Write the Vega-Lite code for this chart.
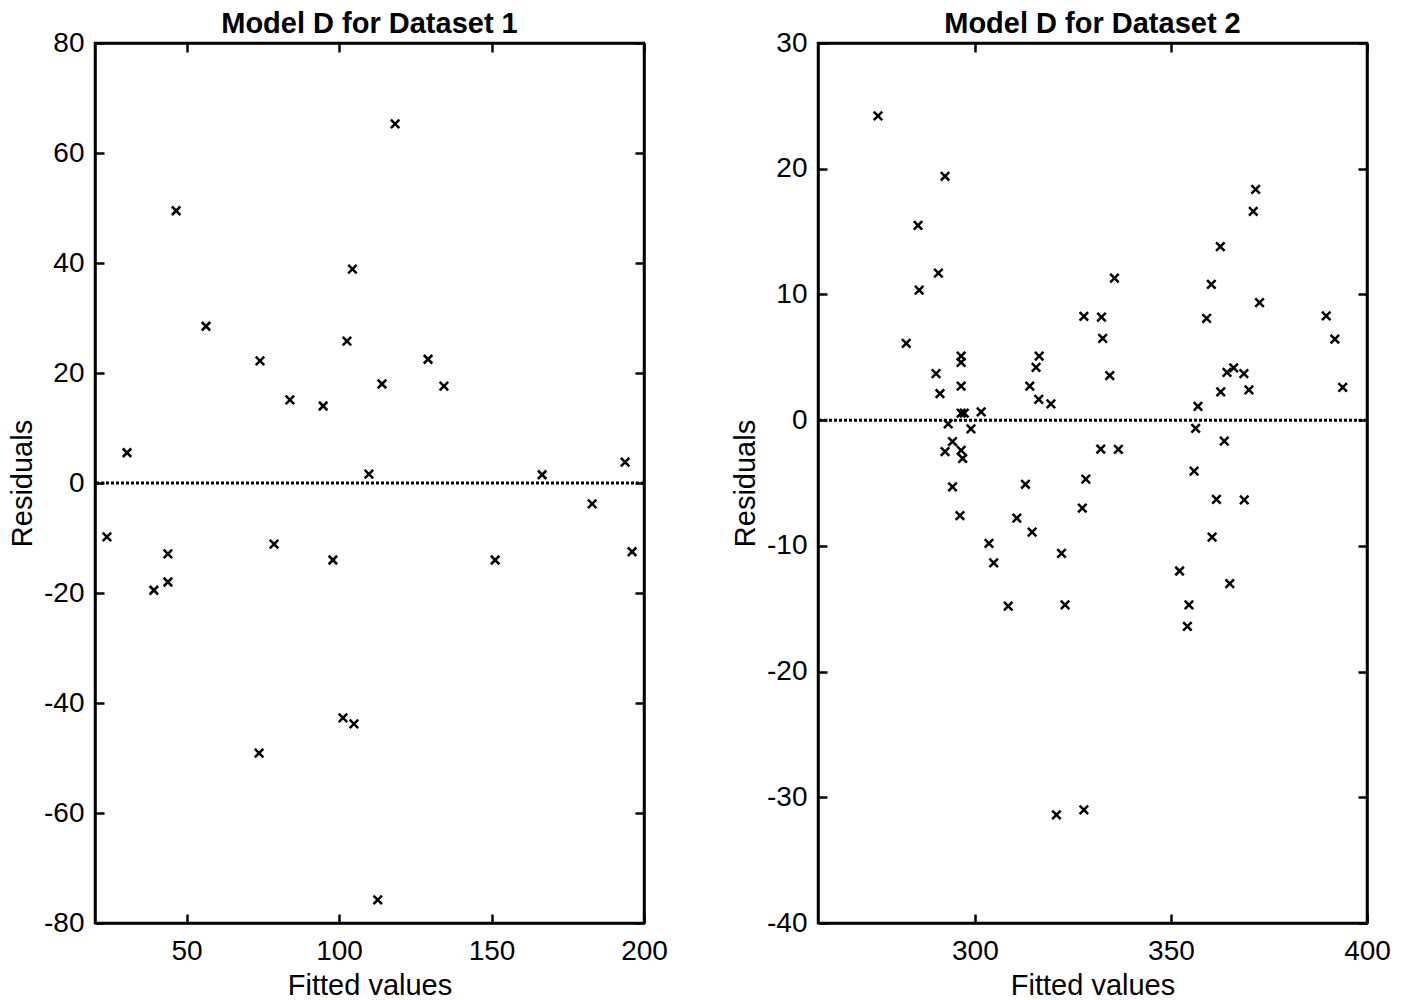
{
  "$schema": "https://vega.github.io/schema/vega-lite/v6.json",
  "background": "white",
  "padding": {"left": 7, "top": 8, "right": 6, "bottom": 0},
  "spacing": 174,
  "bounds": "flush",
  "config": {
    "font": "Liberation Sans",
    "view": {"stroke": "black", "strokeWidth": 2.5},
    "axis": {"domainColor": "black", "domainWidth": 2.5, "tickColor": "black", "tickWidth": 2.5, "tickSize": -9, "labelFontSize": 28, "labelColor": "black", "labelFont": "Liberation Sans", "titleFontSize": 29, "titleFontWeight": "normal", "titleColor": "black", "titleFont": "Liberation Sans", "grid": false, "labelFlush": false, "labelOverlap": false},
    "title": {"fontSize": 29, "fontWeight": "bold", "color": "black", "font": "Liberation Sans", "offset": -10}
  },
  "datasets": {
    "zero": [{"zero": 0}],
    "d1": [
      {"fitted": 23.9, "resid": -9.8}, {"fitted": 30.5, "resid": 5.5}, {"fitted": 39.3, "resid": -19.5}, {"fitted": 43.9, "resid": -12.9}, {"fitted": 43.9, "resid": -18.0}, {"fitted": 46.6, "resid": 49.5}, {"fitted": 56.4, "resid": 28.5}, {"fitted": 74.1, "resid": 22.2}, {"fitted": 73.8, "resid": -49.1}, {"fitted": 78.7, "resid": -11.1}, {"fitted": 83.9, "resid": 15.1}, {"fitted": 94.8, "resid": 14.0}, {"fitted": 98.0, "resid": -14.0}, {"fitted": 101.3, "resid": -42.7}, {"fitted": 102.6, "resid": 25.8}, {"fitted": 104.4, "resid": 38.9}, {"fitted": 104.9, "resid": -43.8}, {"fitted": 109.8, "resid": 1.6}, {"fitted": 112.7, "resid": -75.8}, {"fitted": 114.1, "resid": 18.0}, {"fitted": 118.4, "resid": 65.3}, {"fitted": 129.2, "resid": 22.5}, {"fitted": 134.4, "resid": 17.6}, {"fitted": 151.2, "resid": -14.0}, {"fitted": 166.6, "resid": 1.5}, {"fitted": 183.0, "resid": -3.8}, {"fitted": 193.8, "resid": 3.8}, {"fitted": 196.1, "resid": -12.5}
    ],
    "d2": [
      {"fitted": 275.3, "resid": 24.2}, {"fitted": 292.4, "resid": 19.4}, {"fitted": 285.5, "resid": 15.5}, {"fitted": 290.7, "resid": 11.7}, {"fitted": 285.8, "resid": 10.35}, {"fitted": 327.8, "resid": 8.25}, {"fitted": 282.5, "resid": 6.1}, {"fitted": 296.5, "resid": 5.1}, {"fitted": 296.5, "resid": 4.6}, {"fitted": 290.1, "resid": 3.7}, {"fitted": 316.4, "resid": 5.1}, {"fitted": 315.6, "resid": 4.2}, {"fitted": 296.5, "resid": 2.7}, {"fitted": 314.0, "resid": 2.7}, {"fitted": 291.1, "resid": 2.1}, {"fitted": 316.3, "resid": 1.65}, {"fitted": 319.4, "resid": 1.3}, {"fitted": 296.5, "resid": 0.55}, {"fitted": 297.3, "resid": 0.55}, {"fitted": 301.6, "resid": 0.65}, {"fitted": 293.2, "resid": -0.3}, {"fitted": 299.0, "resid": -0.7}, {"fitted": 294.3, "resid": -1.7}, {"fitted": 292.4, "resid": -2.5}, {"fitted": 296.5, "resid": -2.4}, {"fitted": 296.9, "resid": -3.05}, {"fitted": 294.3, "resid": -5.3}, {"fitted": 312.9, "resid": -5.1}, {"fitted": 296.2, "resid": -7.6}, {"fitted": 310.7, "resid": -7.8}, {"fitted": 314.6, "resid": -8.9}, {"fitted": 303.6, "resid": -9.8}, {"fitted": 304.8, "resid": -11.35}, {"fitted": 308.5, "resid": -14.8}, {"fitted": 322.1, "resid": -10.6}, {"fitted": 323.0, "resid": -14.7}, {"fitted": 328.3, "resid": -4.7}, {"fitted": 327.4, "resid": -7.0}, {"fitted": 332.1, "resid": -2.3}, {"fitted": 320.8, "resid": -31.4}, {"fitted": 327.8, "resid": -31.0}, {"fitted": 371.6, "resid": 18.35}, {"fitted": 371.0, "resid": 16.6}, {"fitted": 362.6, "resid": 13.8}, {"fitted": 335.6, "resid": 11.3}, {"fitted": 360.3, "resid": 10.8}, {"fitted": 372.6, "resid": 9.35}, {"fitted": 332.3, "resid": 8.2}, {"fitted": 359.1, "resid": 8.1}, {"fitted": 389.6, "resid": 8.3}, {"fitted": 332.6, "resid": 6.5}, {"fitted": 391.8, "resid": 6.45}, {"fitted": 334.4, "resid": 3.55}, {"fitted": 364.3, "resid": 3.8}, {"fitted": 366.0, "resid": 4.15}, {"fitted": 368.6, "resid": 3.7}, {"fitted": 362.7, "resid": 2.25}, {"fitted": 369.9, "resid": 2.4}, {"fitted": 393.8, "resid": 2.6}, {"fitted": 356.9, "resid": 1.1}, {"fitted": 356.3, "resid": -0.66}, {"fitted": 363.6, "resid": -1.67}, {"fitted": 336.6, "resid": -2.33}, {"fitted": 355.9, "resid": -4.05}, {"fitted": 361.6, "resid": -6.3}, {"fitted": 368.7, "resid": -6.35}, {"fitted": 360.5, "resid": -9.3}, {"fitted": 352.2, "resid": -12.0}, {"fitted": 365.0, "resid": -13.0}, {"fitted": 354.6, "resid": -14.7}, {"fitted": 354.2, "resid": -16.4}
    ]
  },
  "hconcat": [
    {
      "width": 549,
      "height": 880,
      "title": {"text": "Model D for Dataset 1"},
      "resolve": {"axis": {"x": "independent", "y": "independent"}},
      "layer": [
        {
          "data": {"name": "d1"},
          "mark": {"type": "point", "shape": "M-1,-1L1,1M-1,1L1,-1", "filled": false, "stroke": "black", "strokeWidth": 2.5, "size": 72, "opacity": 1},
          "encoding": {
            "x": {"field": "fitted", "type": "quantitative", "scale": {"domain": [20, 200], "nice": false, "zero": false}, "axis": {"orient": "bottom", "values": [50, 100, 150, 200], "title": "Fitted values", "labelPadding": 23, "titlePadding": 6, "labelExpr": "'' + datum.value"}},
            "y": {"field": "resid", "type": "quantitative", "scale": {"domain": [-80, 80], "nice": false, "zero": false}, "axis": {"orient": "left", "values": [-80, -60, -40, -20, 0, 20, 40, 60, 80], "title": "Residuals", "labelPadding": 20, "titlePadding": 6, "labelExpr": "'' + datum.value"}}
          }
        },
        {
          "data": {"name": "zero"},
          "mark": {"type": "rule", "color": "black", "strokeWidth": 3, "strokeDash": [3, 2]},
          "encoding": {
            "y": {"field": "zero", "type": "quantitative", "axis": {"orient": "right", "values": [-80, -60, -40, -20, 0, 20, 40, 60, 80], "labels": false, "title": null}}
          }
        },
        {
          "data": {"name": "zero"},
          "mark": {"type": "rule", "opacity": 0},
          "encoding": {
            "x": {"datum": 20, "type": "quantitative", "axis": {"orient": "top", "values": [50, 100, 150, 200], "labels": false, "title": null, "labelPadding": 0}}
          }
        }
      ]
    },
    {
      "width": 549,
      "height": 880,
      "title": {"text": "Model D for Dataset 2"},
      "resolve": {"axis": {"x": "independent", "y": "independent"}},
      "layer": [
        {
          "data": {"name": "d2"},
          "mark": {"type": "point", "shape": "M-1,-1L1,1M-1,1L1,-1", "filled": false, "stroke": "black", "strokeWidth": 2.5, "size": 72, "opacity": 1},
          "encoding": {
            "x": {"field": "fitted", "type": "quantitative", "scale": {"domain": [260, 400], "nice": false, "zero": false}, "axis": {"orient": "bottom", "values": [300, 350, 400], "title": "Fitted values", "labelPadding": 23, "titlePadding": 6, "labelExpr": "'' + datum.value"}},
            "y": {"field": "resid", "type": "quantitative", "scale": {"domain": [-40, 30], "nice": false, "zero": false}, "axis": {"orient": "left", "values": [-40, -30, -20, -10, 0, 10, 20, 30], "title": "Residuals", "labelPadding": 20, "titlePadding": 6, "labelExpr": "'' + datum.value"}}
          }
        },
        {
          "data": {"name": "zero"},
          "mark": {"type": "rule", "color": "black", "strokeWidth": 3, "strokeDash": [3, 2]},
          "encoding": {
            "y": {"field": "zero", "type": "quantitative", "axis": {"orient": "right", "values": [-40, -30, -20, -10, 0, 10, 20, 30], "labels": false, "title": null}}
          }
        },
        {
          "data": {"name": "zero"},
          "mark": {"type": "rule", "opacity": 0},
          "encoding": {
            "x": {"datum": 260, "type": "quantitative", "axis": {"orient": "top", "values": [300, 350, 400], "labels": false, "title": null, "labelPadding": 0}}
          }
        }
      ]
    }
  ]
}
